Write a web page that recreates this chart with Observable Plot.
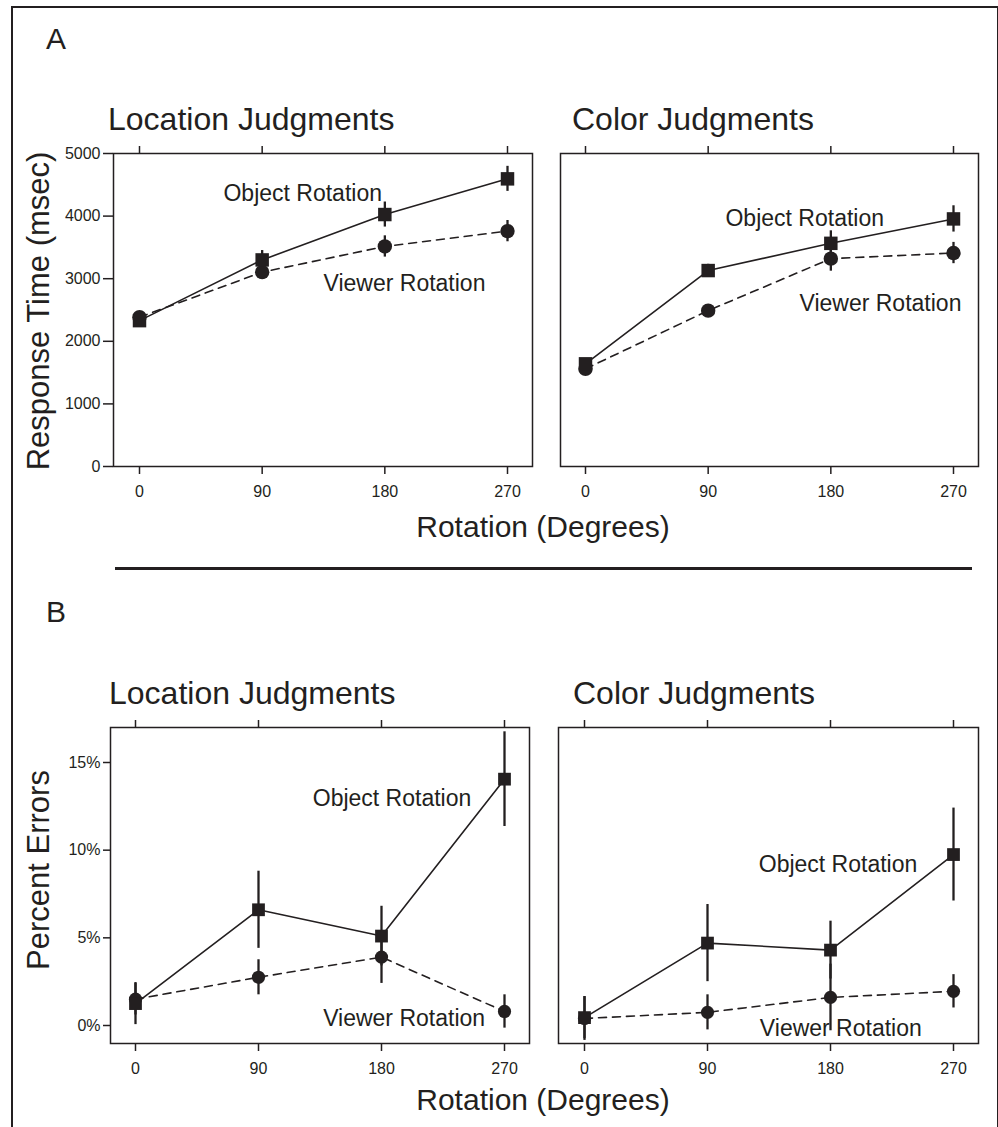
<!DOCTYPE html>
<html>
<head>
<meta charset="utf-8">
<script src="https://cdn.jsdelivr.net/npm/d3@7"></script>
<script src="https://cdn.jsdelivr.net/npm/@observablehq/plot@0.6"></script>
<style>
html, body { margin: 0; padding: 0; background: #fff; }
#fig { position: relative; width: 998px; height: 1127px; overflow: hidden; background: #fff;
  font-family: "Liberation Sans", Arial, Helvetica, sans-serif; color: #231f20; }
.t { position: absolute; white-space: nowrap; line-height: 1; }
.panel { position: absolute; }
</style>
</head>
<body>
<div id="fig"></div>
<script>
// ---------- data ----------
const rotations = [0, 90, 180, 270];
const rtTicks = [0, 1000, 2000, 3000, 4000, 5000];
const errTicks = [0, 5, 10, 15];

// A: response time (msec)
const rtLocObject    = [2330, 3300, 4025, 4595];
const rtLocObjectErr = [50, 150, 200, 200];
const rtLocViewer    = [2385, 3105, 3515, 3760];
const rtLocViewerErr = [50, 100, 170, 170];
const rtColObject    = [1640, 3130, 3565, 3955];
const rtColObjectErr = [60, 100, 200, 210];
const rtColViewer    = [1560, 2490, 3320, 3410];
const rtColViewerErr = [50, 60, 200, 170];

// B: percent errors
const errLocObject    = [1.25, 6.6, 5.1, 14.05];
const errLocObjectErr = [1.2, 2.2, 1.7, 2.7];
const errLocViewer    = [1.5, 2.75, 3.9, 0.8];
const errLocViewerErr = [0.9, 1.0, 1.5, 0.95];
const errColObject    = [0.45, 4.7, 4.3, 9.75];
const errColObjectErr = [1.2, 2.2, 1.65, 2.65];
const errColViewer    = [0.4, 0.75, 1.6, 1.95];
const errColViewerErr = [1.25, 1.0, 1.9, 0.95];

const panelTitles = ["Location Judgments", "Color Judgments"];
const seriesNames = ["Object Rotation", "Viewer Rotation"];
const xTitle = "Rotation (Degrees)";
const yTitles = ["Response Time (msec)", "Percent Errors"];
const sectionLabels = ["A", "B"];

// ---------- helpers ----------
const ink = "#231f20";
const FONT = '"Liberation Sans", Arial, Helvetica, sans-serif';
const fig = document.getElementById("fig");

function addText(txt, x, baseline, size, anchor) {
  const d = document.createElement("div");
  d.className = "t";
  d.textContent = txt;
  d.style.fontSize = size + "px";
  d.style.left = x + "px";
  d.style.top = (baseline - 0.8465 * size) + "px";
  if (anchor === "middle") d.style.transform = "translateX(-50%)";
  fig.appendChild(d);
}
function addVText(txt, xc, yc, size) {
  const d = document.createElement("div");
  d.className = "t";
  d.textContent = txt;
  d.style.fontSize = size + "px";
  d.style.left = xc + "px";
  d.style.top = yc + "px";
  d.style.transform = "translate(-50%,-50%) rotate(-90deg)";
  fig.appendChild(d);
}
function addBox(css) {
  const d = document.createElement("div");
  d.style.position = "absolute";
  Object.assign(d.style, css);
  fig.appendChild(d);
}

function panel(cfg) {
  const rows = rotations.map((x, i) => ({
    x,
    obj: cfg.object[i], objErr: cfg.objectErr[i],
    vw: cfg.viewer[i], vwErr: cfg.viewerErr[i]
  }));
  const marks = [
    Plot.frame({stroke: ink, strokeWidth: 1.5}),
    Plot.axisX({anchor: "top", ticks: rotations, tickSize: 8, tickFormat: () => "", label: null, stroke: ink, strokeWidth: 1.5}),
    Plot.axisX({anchor: "bottom", ticks: rotations, tickSize: 8, tickPadding: 11, tickFormat: d => String(d), label: null, stroke: ink, fill: ink, strokeWidth: 1.5, fontSize: 16})
  ];
  if (cfg.showY) {
    marks.push(Plot.axisY({ticks: cfg.yTicks, tickSize: cfg.yTickSize, tickPadding: 3, tickFormat: cfg.yFormat, label: null, stroke: ink, fill: ink, strokeWidth: 1.5, fontSize: 16}));
  }
  marks.push(
    Plot.line(rows, {x: "x", y: "vw", stroke: ink, strokeWidth: 1.6, strokeDasharray: "8,6"}),
    Plot.line(rows, {x: "x", y: "obj", stroke: ink, strokeWidth: 1.6}),
    Plot.ruleX(rows, {x: "x", y1: d => d.vw - d.vwErr, y2: d => d.vw + d.vwErr, stroke: ink, strokeWidth: 2.3}),
    Plot.ruleX(rows, {x: "x", y1: d => d.obj - d.objErr, y2: d => d.obj + d.objErr, stroke: ink, strokeWidth: 2.3}),
    Plot.dot(rows, {x: "x", y: "vw", r: cfg.rc, fill: ink, stroke: null, symbol: "circle"}),
    Plot.dot(rows, {x: "x", y: "obj", r: cfg.rs, fill: ink, stroke: null, symbol: "square"}),
    Plot.text(cfg.notes, {x: "x", y: "y", text: "t", textAnchor: "start", lineAnchor: "middle", fontSize: 23, fill: ink})
  );
  const svg = Plot.plot({
    width: cfg.width, height: cfg.height,
    marginLeft: cfg.marginLeft, marginRight: cfg.marginRight,
    marginTop: cfg.marginTop, marginBottom: cfg.marginBottom,
    style: {background: "transparent", fontFamily: FONT, fontSize: "16px", color: ink, overflow: "visible"},
    x: {type: "linear", domain: [0, 270], insetLeft: cfg.insetLeft, insetRight: cfg.insetRight},
    y: {type: "linear", domain: cfg.yDomain, insetTop: cfg.insetTop || 0, insetBottom: cfg.insetBottom || 0, axis: cfg.showY ? undefined : null},
    marks
  });
  const wrap = document.createElement("div");
  wrap.className = "panel";
  wrap.style.left = cfg.left + "px";
  wrap.style.top = cfg.top + "px";
  wrap.appendChild(svg);
  fig.appendChild(wrap);
}

// ---------- frame & section decoration ----------
addBox({left: "11px", top: "6px", width: "984px", height: "1140px",
  borderLeft: "2.5px solid " + ink, borderTop: "2.5px solid " + ink, borderRight: "2.5px solid " + ink});
addBox({left: "115px", top: "567px", width: "857px", height: "2.5px", background: ink});

addText(sectionLabels[0], 46, 49, 30);
addText(sectionLabels[1], 46, 622, 30);

addText(panelTitles[0], 108, 130, 32);
addText(panelTitles[1], 572, 130, 32);
addText(panelTitles[0], 109, 704, 32);
addText(panelTitles[1], 573, 704, 32);

addText(xTitle, 543, 537, 30, "middle");
addText(xTitle, 543, 1110, 30, "middle");

addVText(yTitles[0], 38, 311, 31);
addVText(yTitles[1], 38, 870, 31);

// ---------- panels ----------
const rtFormat = d3.format("d");
const pctFormat = d => d + "%";

panel({left: 0, top: 130, width: 542, height: 376, marginLeft: 113, marginRight: 10, marginTop: 23, marginBottom: 40,
  insetLeft: 26, insetRight: 25, yDomain: [0, 5000], yTicks: rtTicks, yFormat: rtFormat, showY: true, yTickSize: 10,
  object: rtLocObject, objectErr: rtLocObjectErr, viewer: rtLocViewer, viewerErr: rtLocViewerErr, rs: 7.6, rc: 7.2,
  notes: [{x: 61.6, y: 4360, t: seriesNames[0]}, {x: 135, y: 2925, t: seriesNames[1]}]});

panel({left: 540, top: 130, width: 448, height: 376, marginLeft: 20, marginRight: 10, marginTop: 23, marginBottom: 40,
  insetLeft: 25, insetRight: 25, yDomain: [0, 5000], showY: false,
  object: rtColObject, objectErr: rtColObjectErr, viewer: rtColViewer, viewerErr: rtColViewerErr, rs: 7.6, rc: 7.2,
  notes: [{x: 102.7, y: 3960, t: seriesNames[0]}, {x: 157, y: 2605, t: seriesNames[1]}]});

panel({left: 0, top: 700, width: 539, height: 383, marginLeft: 110, marginRight: 10, marginTop: 27, marginBottom: 40,
  insetLeft: 25, insetRight: 25, insetTop: 35, insetBottom: 18, yDomain: [0, 15], yTicks: errTicks, yFormat: pctFormat, showY: true, yTickSize: 7,
  object: errLocObject, objectErr: errLocObjectErr, viewer: errLocViewer, viewerErr: errLocViewerErr, rs: 7.2, rc: 6.6,
  notes: [{x: 129.7, y: 12.93, t: seriesNames[0]}, {x: 137.3, y: 0.38, t: seriesNames[1]}]});

panel({left: 540, top: 700, width: 448, height: 383, marginLeft: 18, marginRight: 10, marginTop: 27, marginBottom: 40,
  insetLeft: 26, insetRight: 25, insetTop: 35, insetBottom: 18, yDomain: [0, 15], showY: false,
  object: errColObject, objectErr: errColObjectErr, viewer: errColViewer, viewerErr: errColViewerErr, rs: 7.2, rc: 6.6,
  notes: [{x: 127.5, y: 9.17, t: seriesNames[0]}, {x: 128.3, y: -0.19, t: seriesNames[1]}]});
</script>
</body>
</html>
